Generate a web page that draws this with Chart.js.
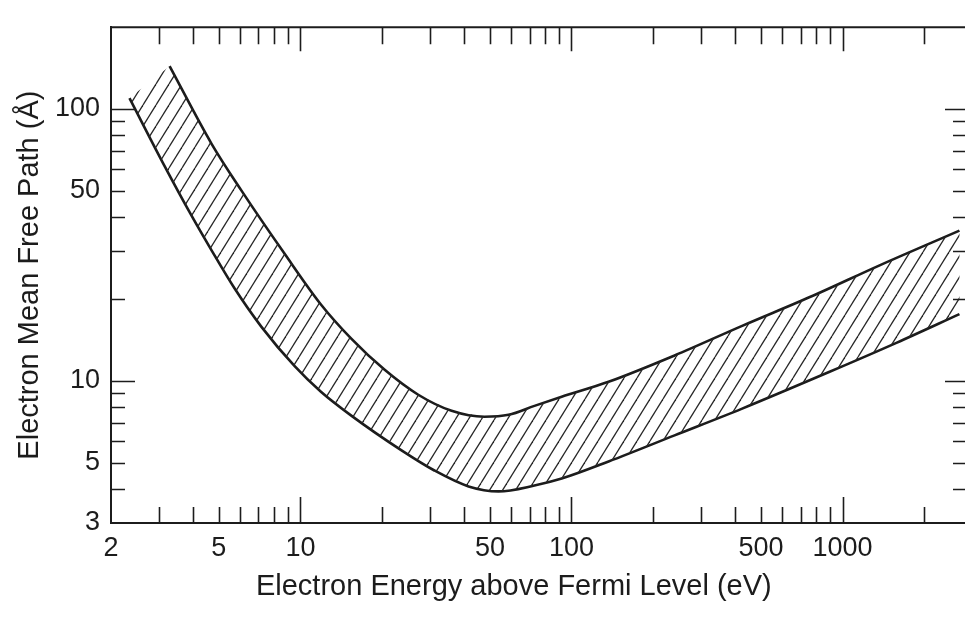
<!DOCTYPE html>
<html>
<head>
<meta charset="utf-8">
<title>Electron Mean Free Path</title>
<script src="https://cdn.jsdelivr.net/npm/chart.js@4.4.0/dist/chart.umd.min.js"></script>
<style>
    html, body { margin: 0; padding: 0; background: #fff; }
    #wrap { width: 965px; height: 618px; }
</style>
</head>
<body>
<div id="wrap"><canvas id="grafico"></canvas></div>
<script>
// upper edge of the band (eV, Å)
const upperEnergy = [3.29, 4.70, 6.06, 8.73, 11.9, 15.4, 20.4, 27.2, 36.1, 47.7, 58.6, 73, 92, 137, 240, 424, 781, 1370, 2700];
const upperPath = [143.8, 74.5, 50.1, 29.4, 19.1, 14.3, 11.0, 8.89, 7.76, 7.38, 7.50, 8.09, 8.74, 9.92, 12.4, 15.9, 20.6, 26.6, 35.7];

// lower edge of the band
const lowerEnergy = [2.34, 3.15, 3.96, 4.70, 5.71, 7.18, 9.5, 11.9, 15.4, 23.6, 31.2, 41.7, 53.8, 73, 92, 137, 240, 424, 896, 1580, 2700];
const lowerPath = [109.7, 61.8, 40.6, 30.2, 21.9, 15.8, 11.35, 9.12, 7.45, 5.55, 4.68, 4.09, 3.92, 4.12, 4.37, 5.05, 6.30, 7.89, 10.8, 13.8, 17.6];

// axis labels and tick marks
const energyLabels = [2, 5, 10, 50, 100, 500, 1000];
const pathLabels = [3, 5, 10, 50, 100];
const energyTicks = [3, 4, 5, 6, 7, 8, 9, 10, 20, 30, 40, 50, 60, 70, 80, 90, 100, 200, 300, 400, 500, 600, 700, 800, 900, 1000, 2000];
const pathTicks = [4, 5, 6, 7, 8, 9, 10, 20, 30, 40, 50, 60, 70, 80, 90, 100];

const tinta = '#1c1c1c';
Chart.defaults.font.family = "'Liberation Sans', Arial, sans-serif";
Chart.defaults.color = tinta;

// diagonal hatching for the band
function hachura() {
    const c = document.createElement('canvas');
    c.width = 13;
    c.height = 21;
    const g = c.getContext('2d');
    g.strokeStyle = '#262626';
    g.lineWidth = 1.3;
    [-13, 0, 13].forEach(dx => {
        g.beginPath();
        g.moveTo(dx, 21);
        g.lineTo(dx + 13, 0);
        g.stroke();
    });
    return g.createPattern(c, 'repeat');
}

const decada = v => Math.abs(Math.log10(v) - Math.round(Math.log10(v))) < 1e-9;

// inward tick marks on all four sides + top frame line
const marcas = {
    id: 'marcas',
    afterDraw(chart) {
        const { ctx, chartArea: a, scales: { x, y } } = chart;
        ctx.save();
        ctx.strokeStyle = tinta;
        ctx.lineWidth = 2;
        ctx.beginPath();
        ctx.moveTo(a.left, a.top);
        ctx.lineTo(a.right, a.top);
        ctx.stroke();
        ctx.lineWidth = 1.6;
        energyTicks.forEach(v => {
            const px = Math.round(x.getPixelForValue(v)) + 0.5;
            const big = decada(v);
            ctx.beginPath();
            ctx.moveTo(px, a.bottom);
            ctx.lineTo(px, a.bottom - (big ? 26 : 16));
            ctx.moveTo(px, a.top);
            ctx.lineTo(px, a.top + (big ? 24 : 17));
            ctx.stroke();
        });
        pathTicks.forEach(v => {
            const py = Math.round(y.getPixelForValue(v)) + 0.5;
            const big = decada(v);
            ctx.beginPath();
            ctx.moveTo(a.left, py);
            ctx.lineTo(a.left + (big ? 24 : 14), py);
            ctx.moveTo(a.right, py);
            ctx.lineTo(a.right - (big ? 20 : 12), py);
            ctx.stroke();
        });
        ctx.restore();
    }
};

const pontos = (xs, ys) => xs.map((v, i) => ({ x: v, y: ys[i] }));
const bordaSup = pontos(upperEnergy, upperPath);
const bordaInf = pontos(lowerEnergy, lowerPath);

new Chart(document.getElementById('grafico'), {
    type: 'line',
    data: {
        datasets: [
            {
                data: bordaSup.concat(bordaInf.slice().reverse()),
                fill: 'shape',
                backgroundColor: hachura(),
                borderWidth: 0,
                pointRadius: 0,
                tension: 0
            },
            {
                data: bordaSup,
                fill: false,
                borderColor: tinta,
                borderWidth: 2.6,
                pointRadius: 0,
                cubicInterpolationMode: 'monotone'
            },
            {
                data: bordaInf,
                fill: false,
                borderColor: tinta,
                borderWidth: 2.6,
                pointRadius: 0,
                cubicInterpolationMode: 'monotone'
            }
        ]
    },
    options: {
        responsive: true,
        maintainAspectRatio: false,
        animation: false,
        layout: { padding: { top: 23, right: 0, left: 0, bottom: 0 } },
        plugins: { legend: { display: false }, tooltip: { enabled: false } },
        scales: {
            x: {
                type: 'logarithmic',
                min: 2,
                max: 2830,
                afterBuildTicks: s => { s.ticks = energyLabels.map(v => ({ value: v })); },
                afterFit: s => { s.height = 95; },
                ticks: { callback: v => String(v), font: { size: 27 }, padding: 9, maxRotation: 0, autoSkip: false },
                grid: { drawOnChartArea: false, drawTicks: false },
                border: { color: tinta, width: 2 },
                title: {
                    display: true,
                    text: 'Electron Energy above Fermi Level (eV)      ',
                    font: { size: 29 },
                    padding: { top: 0, bottom: 14 }
                }
            },
            y: {
                type: 'logarithmic',
                min: 3,
                max: 200,
                afterBuildTicks: s => { s.ticks = pathLabels.map(v => ({ value: v })); },
                afterFit: s => { s.width = 111; },
                ticks: { callback: v => String(v), font: { size: 27 }, padding: 11, autoSkip: false },
                grid: { drawOnChartArea: false, drawTicks: false },
                border: { color: tinta, width: 2 },
                title: {
                    display: true,
                    text: 'Electron Mean Free Path (Å)',
                    font: { size: 29 },
                    padding: { top: 13, bottom: 0 }
                }
            }
        }
    },
    plugins: [marcas]
});
</script>
</body>
</html>
